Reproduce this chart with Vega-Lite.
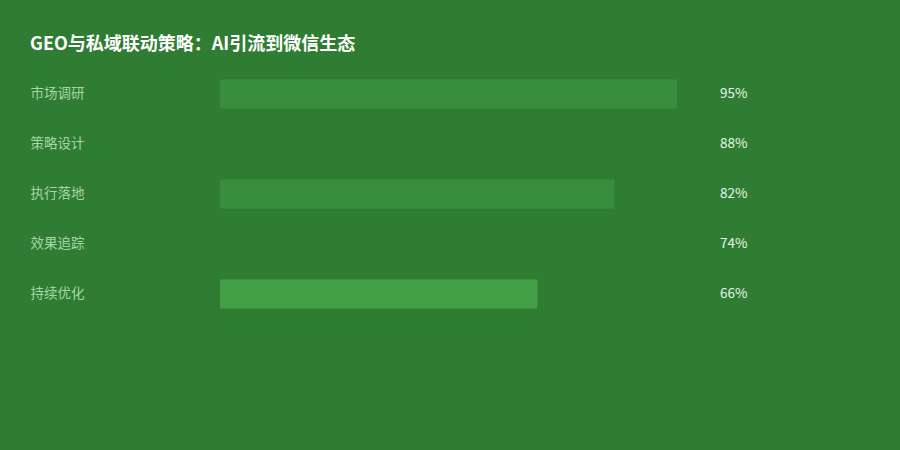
{
  "$schema": "https://vega.github.io/schema/vega-lite/v6.json",
  "autosize": {"type": "none"},
  "width": 481,
  "height": 250,
  "padding": {"left": 220, "top": 69, "right": 199, "bottom": 131},
  "background": "#2e7d32",
  "title": {
    "text": "GEO与私域联动策略：AI引流到微信生态",
    "anchor": "start",
    "frame": "group",
    "dx": -190,
    "offset": 15,
    "fontSize": 18,
    "fontWeight": "bold",
    "font": "Noto Sans CJK SC",
    "color": "#ffffff"
  },
  "config": {
    "view": {"stroke": null},
    "font": "Noto Sans CJK SC"
  },
  "data": {
    "values": [
      {"step": "市场调研", "value": 0.95},
      {"step": "策略设计", "value": 0.88},
      {"step": "执行落地", "value": 0.82},
      {"step": "效果追踪", "value": 0.74},
      {"step": "持续优化", "value": 0.66}
    ]
  },
  "encoding": {
    "y": {
      "field": "step",
      "type": "nominal",
      "sort": null,
      "scale": {"paddingInner": 0.42, "paddingOuter": 0.21},
      "axis": {
        "title": null,
        "domain": false,
        "ticks": false,
        "grid": false,
        "labelAlign": "left",
        "labelPadding": 190,
        "labelFontSize": 13.5,
        "labelColor": "#a5d6a7",
        "labelFont": "Noto Sans CJK SC"
      }
    }
  },
  "layer": [
    {
      "mark": {"type": "bar"},
      "encoding": {
        "x": {
          "field": "value",
          "type": "quantitative",
          "scale": {"domain": [0, 1]},
          "axis": null
        },
        "color": {
          "field": "step",
          "type": "nominal",
          "legend": null,
          "scale": {
            "domain": ["市场调研", "策略设计", "执行落地", "效果追踪", "持续优化"],
            "range": ["#388e3c", "#2e7d32", "#388e3c", "#2e7d32", "#43a047"]
          }
        }
      }
    },
    {
      "mark": {
        "type": "text",
        "align": "left",
        "baseline": "middle",
        "dx": 19,
        "fontSize": 13.5,
        "color": "#e8f5e9",
        "font": "Noto Sans CJK SC"
      },
      "encoding": {
        "x": {"datum": 1, "type": "quantitative", "scale": {"domain": [0, 1]}},
        "text": {"field": "value", "type": "quantitative", "format": ".0%"}
      }
    }
  ]
}
